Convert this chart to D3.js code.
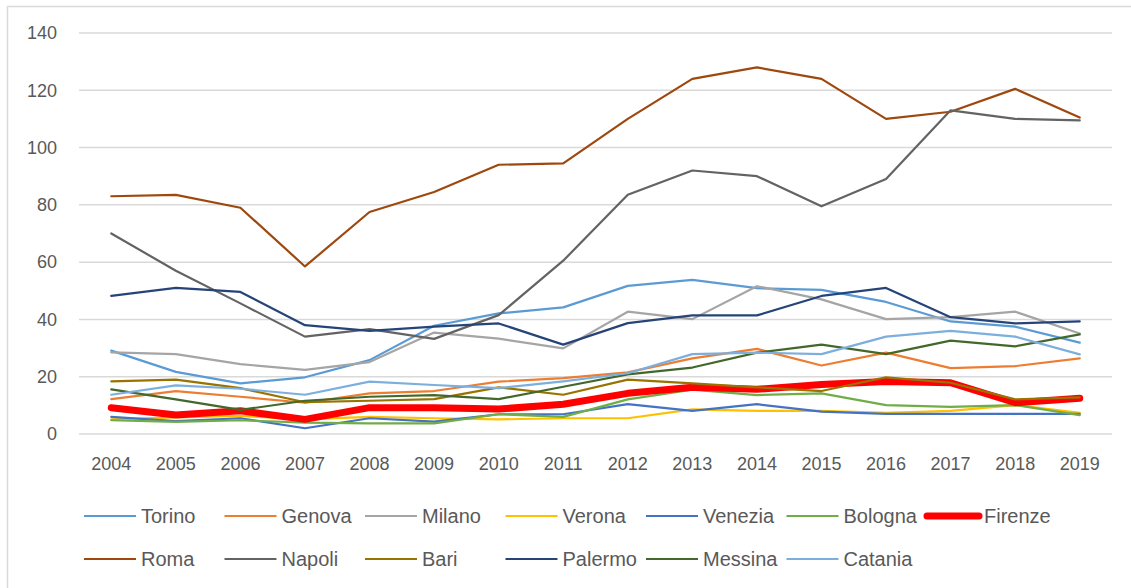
<!DOCTYPE html>
<html>
<head>
<meta charset="utf-8">
<script src="https://cdn.jsdelivr.net/npm/d3@7"></script>
<style>
  body { margin: 0; background: #fff; }
  svg { display: block; font-family: "Liberation Sans", Arial, sans-serif; }
</style>
</head>
<body>
<div id="chart"></div>
<script>
const years = ["2004","2005","2006","2007","2008","2009","2010","2011","2012","2013","2014","2015","2016","2017","2018","2019"];
const yTicks = [0, 20, 40, 60, 80, 100, 120, 140];

const torino  = [29.1, 21.7, 17.7, 19.8, 25.8, 37.8, 42.1, 44.2, 51.7, 53.8, 50.9, 50.3, 46.1, 39.3, 37.5, 31.9];
const genova  = [12.2, 15.0, 13.0, 10.9, 14.2, 15.0, 18.3, 19.5, 21.5, 26.4, 29.7, 23.9, 28.4, 23.0, 23.7, 26.4];
const milano  = [28.5, 27.9, 24.4, 22.4, 25.1, 35.4, 33.3, 29.9, 42.7, 40.1, 51.6, 47.0, 40.1, 40.8, 42.7, 35.1];
const verona  = [5.1, 5.8, 6.3, 5.1, 6.0, 5.5, 5.1, 5.5, 5.5, 8.6, 8.1, 8.1, 7.4, 8.1, 10.1, 7.4];
const venezia = [6.0, 4.5, 5.5, 2.0, 5.5, 4.3, 6.9, 6.9, 10.4, 8.1, 10.4, 7.8, 7.0, 7.0, 7.0, 7.0];
const bologna = [4.8, 4.2, 4.8, 4.0, 3.7, 3.7, 6.9, 6.0, 12.1, 15.5, 13.6, 14.2, 10.1, 9.5, 10.1, 6.6];
const firenze = [9.2, 6.6, 8.1, 5.1, 9.2, 9.2, 8.7, 10.4, 14.2, 16.3, 15.6, 17.3, 18.3, 17.9, 10.9, 12.5];
const roma    = [83.0, 83.5, 79.0, 58.5, 77.5, 84.5, 94.0, 94.5, 110.0, 124.0, 128.0, 124.0, 110.0, 112.5, 120.5, 110.5];
const napoli  = [70.0, 57.0, 45.6, 34.0, 36.6, 33.2, 41.5, 60.5, 83.5, 92.0, 90.0, 79.5, 89.0, 113.0, 110.0, 109.5];
const bari    = [18.4, 19.0, 16.0, 11.1, 11.6, 12.2, 16.3, 13.7, 19.0, 17.7, 16.3, 15.0, 19.8, 17.9, 12.1, 12.8];
const palermo = [48.2, 51.0, 49.6, 38.0, 36.0, 37.5, 38.6, 31.2, 38.7, 41.4, 41.4, 48.2, 51.0, 40.8, 38.6, 39.3];
const messina = [15.6, 12.1, 8.4, 11.6, 13.0, 13.6, 12.2, 16.5, 20.8, 23.2, 28.4, 31.2, 27.9, 32.6, 30.6, 34.8];
const catania = [13.7, 17.0, 15.8, 13.7, 18.3, 17.1, 16.0, 18.4, 21.2, 27.9, 28.4, 27.9, 34.0, 36.0, 34.0, 27.8];

const series = [
  { name: "Torino",  values: torino,  color: "#5B9BD5", width: 2.2 },
  { name: "Genova",  values: genova,  color: "#ED7D31", width: 2.2 },
  { name: "Milano",  values: milano,  color: "#A5A5A5", width: 2.2 },
  { name: "Verona",  values: verona,  color: "#FFC000", width: 2.2 },
  { name: "Venezia", values: venezia, color: "#4472C4", width: 2.2 },
  { name: "Bologna", values: bologna, color: "#70AD47", width: 2.2 },
  { name: "Firenze", values: firenze, color: "#FF0000", width: 7 },
  { name: "Roma",    values: roma,    color: "#9E480E", width: 2.2 },
  { name: "Napoli",  values: napoli,  color: "#636363", width: 2.2 },
  { name: "Bari",    values: bari,    color: "#997300", width: 2.2 },
  { name: "Palermo", values: palermo, color: "#264478", width: 2.2 },
  { name: "Messina", values: messina, color: "#43682B", width: 2.2 },
  { name: "Catania", values: catania, color: "#7CAFDD", width: 2.2 }
];

const width = 1131, height = 588;
const margin = { top: 33, right: 19, bottom: 154, left: 79 };

const svg = d3.select("#chart").append("svg")
  .attr("width", width)
  .attr("height", height);

// chart border
svg.append("rect")
  .attr("x", 7.5).attr("y", 6.5)
  .attr("width", width + 20).attr("height", height + 20)
  .attr("fill", "none")
  .attr("stroke", "#d9d9d9")
  .attr("stroke-width", 1.5);

const x = d3.scaleBand()
  .domain(years)
  .range([margin.left, width - margin.right]);

const y = d3.scaleLinear()
  .domain([0, 140])
  .range([height - margin.bottom, margin.top]);

// gridlines
svg.append("g")
  .selectAll("line")
  .data(yTicks)
  .join("line")
  .attr("x1", margin.left)
  .attr("x2", width - margin.right)
  .attr("y1", d => y(d))
  .attr("y2", d => y(d))
  .attr("stroke", "#d9d9d9")
  .attr("stroke-width", 1.5);

// y labels
svg.append("g")
  .selectAll("text")
  .data(yTicks)
  .join("text")
  .attr("x", 57)
  .attr("y", d => y(d))
  .attr("dy", "0.35em")
  .attr("text-anchor", "end")
  .attr("fill", "#595959")
  .style("font-size", "18px")
  .text(d => d);

// x labels
svg.append("g")
  .selectAll("text")
  .data(years)
  .join("text")
  .attr("x", d => x(d) + x.bandwidth() / 2)
  .attr("y", 470)
  .attr("text-anchor", "middle")
  .attr("fill", "#595959")
  .style("font-size", "18px")
  .text(d => d);

const line = d3.line()
  .x((d, i) => x(years[i]) + x.bandwidth() / 2)
  .y(d => y(d));

svg.append("g")
  .selectAll("path")
  .data(series)
  .join("path")
  .attr("d", d => line(d.values))
  .attr("fill", "none")
  .attr("stroke", d => d.color)
  .attr("stroke-width", d => d.width)
  .attr("stroke-linejoin", "round")
  .attr("stroke-linecap", "round");

// legend
const legend = svg.append("g");
const perRow = 7;
const item = legend.selectAll("g")
  .data(series)
  .join("g")
  .attr("transform", (d, i) => `translate(${84 + (i % perRow) * 140.5},${i < perRow ? 516 : 559})`);

item.append("line")
  .attr("x1", 0).attr("x2", 52)
  .attr("stroke", d => d.color)
  .attr("stroke-width", d => d.width)
  .attr("stroke-linecap", d => d.width > 3 ? "round" : "butt");

item.append("text")
  .attr("x", 57)
  .attr("dy", "0.35em")
  .attr("fill", "#595959")
  .style("font-size", "20px")
  .text(d => d.name);
</script>
</body>
</html>
